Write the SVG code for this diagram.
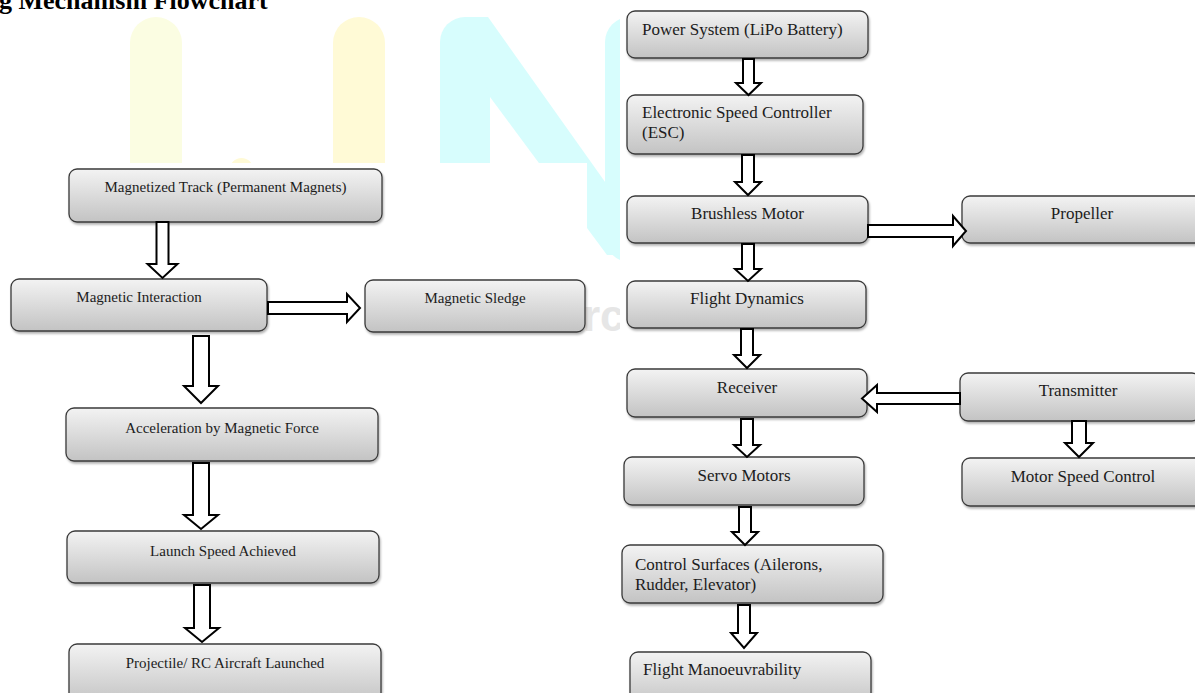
<svg xmlns="http://www.w3.org/2000/svg" width="1195" height="693" viewBox="0 0 1195 693">
<style>
.box{fill:url(#g);stroke:#3a3a3a;stroke-width:1.3;filter:url(#sh)}
.t{font-family:"Liberation Serif","Times New Roman",serif;fill:#1c1c1c}
.l{font-size:15px;text-anchor:middle}
.r{font-size:17px}
.rc{text-anchor:middle}
.arr{fill:#fff;stroke:#000;stroke-width:2;stroke-linejoin:miter}
</style>
<defs>
<linearGradient id="g" x1="0" y1="0" x2="0" y2="1">
<stop offset="0" stop-color="#f3f3f3"/>
<stop offset="1" stop-color="#c3c3c3"/>
</linearGradient>
<filter id="sh" x="-5%" y="-10%" width="112%" height="130%">
<feDropShadow dx="1" dy="2" stdDeviation="1.3" flood-color="#000" flood-opacity="0.3"/>
</filter>
<clipPath id="wm">
<rect x="0" y="0" width="620" height="163"/>
<rect x="587" y="0" width="33" height="262"/>
</clipPath>
<clipPath id="wm2"><rect x="0" y="0" width="620" height="693"/></clipPath>
</defs>
<rect width="1195" height="693" fill="#fff"/>
<g id="watermark" clip-path="url(#wm)">
<rect x="130" y="17" width="52" height="200" rx="26" fill="#fbfde2"/>
<rect x="333" y="17" width="52" height="200" rx="26" fill="#fffad6"/>
<circle cx="241.5" cy="170" r="12" fill="#fffad6"/>
<rect x="440" y="17" width="50" height="200" rx="25" fill="#d7fdfd"/>
<polygon points="465,17 488,17 657,255 607,255 490,97" fill="#d7fdfd"/>
<rect x="605" y="17" width="50" height="245" rx="25" fill="#d7fdfd"/>
</g>
<g clip-path="url(#wm2)"><text x="583" y="331" font-family="Liberation Sans,Arial,sans-serif" font-weight="bold" font-size="44" fill="#e6e6e6">rc</text></g>
<text id="title" x="-1" y="9" font-family="Liberation Serif,Times New Roman,serif" font-weight="bold" font-size="26" fill="#000">g Mechanism Flowchart</text>

<g id="n-track"><rect class="box" x="69" y="169" width="313" height="53" rx="8"/><text class="t l" x="225.5" y="192">Magnetized Track (Permanent Magnets)</text></g>
<g id="n-interaction"><rect class="box" x="11" y="279" width="256" height="52" rx="8"/><text class="t l" x="139" y="302">Magnetic Interaction</text></g>
<g id="n-sledge"><rect class="box" x="365" y="280" width="220" height="52" rx="8"/><text class="t l" x="475" y="303">Magnetic Sledge</text></g>
<g id="n-accel"><rect class="box" x="66" y="408" width="312" height="53" rx="8"/><text class="t l" x="222" y="433">Acceleration by Magnetic Force</text></g>
<g id="n-launch"><rect class="box" x="67" y="531" width="312" height="52" rx="8"/><text class="t l" x="223" y="556">Launch Speed Achieved</text></g>
<g id="n-projectile"><rect class="box" x="69" y="644" width="312" height="60" rx="8"/><text class="t l" x="225" y="668">Projectile/ RC Aircraft Launched</text></g>

<g id="n-power"><rect class="box" x="627" y="11" width="241" height="47" rx="8"/><text class="t r" x="642" y="35">Power System (LiPo Battery)</text></g>
<g id="n-esc"><rect class="box" x="627" y="95" width="236" height="59" rx="8"/><text class="t r" x="642" y="118">Electronic Speed Controller</text><text class="t r" x="642" y="138">(ESC)</text></g>
<g id="n-brushless"><rect class="box" x="627" y="196" width="241" height="47" rx="8"/><text class="t r rc" x="747.5" y="219">Brushless Motor</text></g>
<g id="n-propeller"><rect class="box" x="962" y="196" width="242" height="47" rx="8"/><text class="t r rc" x="1082" y="219">Propeller</text></g>
<g id="n-flightdyn"><rect class="box" x="627" y="281" width="239" height="47" rx="8"/><text class="t r rc" x="747" y="304">Flight Dynamics</text></g>
<g id="n-receiver"><rect class="box" x="627" y="369" width="240" height="48" rx="8"/><text class="t r rc" x="747" y="393">Receiver</text></g>
<g id="n-transmitter"><rect class="box" x="960" y="373" width="240" height="48" rx="8"/><text class="t r rc" x="1078" y="396">Transmitter</text></g>
<g id="n-motorspeed"><rect class="box" x="962" y="458" width="242" height="48" rx="8"/><text class="t r rc" x="1083" y="482">Motor Speed Control</text></g>
<g id="n-servo"><rect class="box" x="624" y="457" width="240" height="48" rx="8"/><text class="t r rc" x="744" y="481">Servo Motors</text></g>
<g id="n-surfaces"><rect class="box" x="622" y="545" width="261" height="58" rx="8"/><text class="t r" x="635" y="570">Control Surfaces (Ailerons,</text><text class="t r" x="635" y="590">Rudder, Elevator)</text></g>
<g id="n-manoeuvre"><rect class="box" x="630" y="652" width="241" height="55" rx="8"/><text class="t r" x="643" y="675">Flight Manoeuvrability</text></g>

<g id="connectors">
<polygon class="arr" points="156.5,222 168.5,222 168.5,264 177.5,264 162.5,278 147.5,264 156.5,264"/>
<polygon class="arr" points="268,302 347,302 347,294 360,308 347,322 347,314 268,314"/>
<polygon class="arr" points="193,336 209,336 209,386 218,386 201,403 184,386 193,386"/>
<polygon class="arr" points="193,463 209,463 209,515 218,515 201,529 184,515 193,515"/>
<polygon class="arr" points="194,585 210,585 210,628 219,628 202,642 185,628 194,628"/>
<polygon class="arr" points="743,59 754,59 754,83 761,83 748.5,95 736,83 743,83"/>
<polygon class="arr" points="742,155 754,155 754,182 761,182 748,195 735,182 742,182"/>
<polygon class="arr" points="868,225 953,225 953,216 966,231 953,246 953,237 868,237"/>
<polygon class="arr" points="742,244 754,244 754,269 761,269 748,281 735,269 742,269"/>
<polygon class="arr" points="741,329 753,329 753,355 760,355 747,368 734,355 741,355"/>
<polygon class="arr" points="960,393 877,393 877,385 862,398.5 877,412 877,404 960,404"/>
<polygon class="arr" points="1072,421 1086,421 1086,443 1093,443 1079,457 1065,443 1072,443"/>
<polygon class="arr" points="741,419 753,419 753,445 760,445 747,457 734,445 741,445"/>
<polygon class="arr" points="739,507 751,507 751,532 758,532 745,545 732,532 739,532"/>
<polygon class="arr" points="738,605 750,605 750,633 757,633 744,648 731,633 738,633"/>
</g>
</svg>
